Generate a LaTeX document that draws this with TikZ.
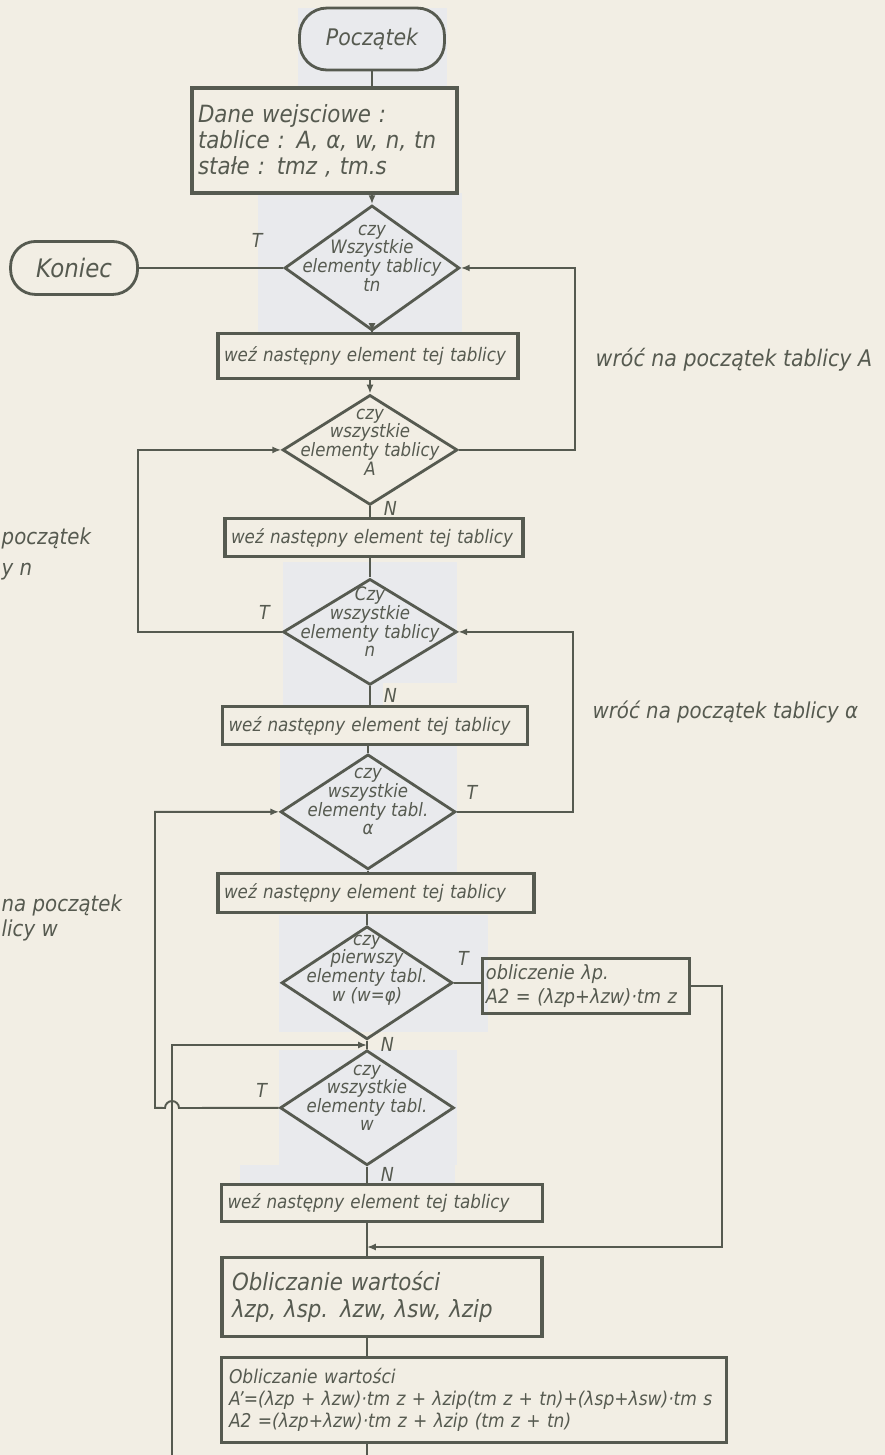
\documentclass[tikz,border=0pt]{standalone}
\usepackage{fontspec}
\setmainfont{DejaVu Sans}[FakeStretch=0.9]
\usetikzlibrary{shapes.geometric, arrows.meta}
\definecolor{paper}{RGB}{242,238,228}
\definecolor{patch}{RGB}{233,234,237}
\definecolor{ink}{RGB}{86,90,80}

\begin{document}
\begin{tikzpicture}[x=0.02cm, y=-0.02cm, thick, color=ink,
    term/.style={draw, line width=1.6pt, rectangle, rounded corners=0.55cm,
                 font=\fontsize{13}{15}\selectfont\itshape},
    box/.style={draw, line width=1.8pt, inner xsep=0.12cm, inner ysep=0pt,
                align=left, font=\fontsize{10.6}{13}\selectfont\itshape},
    decision/.style={draw, line width=1.6pt, diamond, inner sep=0pt},
    dtext/.style={align=center, yshift=0.2cm,
                  font=\fontsize{10.5}{10.6}\selectfont\itshape},
    line/.style={draw, line width=1.1pt},
    arr/.style={line, -{Latex[length=5pt, width=4pt]}},
    lbl/.style={font=\fontsize{11}{13}\selectfont\itshape},
    note/.style={inner sep=0pt, align=left, font=\fontsize{12.5}{15}\selectfont\itshape}]

    \path[use as bounding box, fill=paper] (0,0) rectangle (885,1455);
    % lighter patches of the scan
    \fill[patch] (298,8) rectangle (447,87);
    \fill[patch] (258,193) rectangle (462,333);
    \fill[patch] (283,562) rectangle (457,683);
    \fill[patch] (283,683) rectangle (383,708);
    \fill[patch] (280,745) rectangle (457,872);
    \fill[patch] (279,915) rectangle (488,1032);
    \fill[patch] (279,1050) rectangle (457,1165);
    \fill[patch] (240,1165) rectangle (455,1184);

    \node[term, minimum width=2.9cm, minimum height=1.24cm] (start) at (372,39) {Początek};
    \node[box, text width=5.06cm, minimum height=2.1cm,
          font=\fontsize{13.5}{14.8}\selectfont\itshape]
          (data) [node distance=2.03cm, below of=start, xshift=-0.95cm]
          {Dane wejsciowe :\\tablice : A, α, w, n, tn\\stałe : tmz , tm.s};
    \node[decision, minimum width=3.5cm, minimum height=2.5cm,
          label={[dtext]center:{czy\\Wszystkie\\elementy tablicy\\tn}}]
          (d1) [node distance=4.58cm, below of=start] {};
    \node[term, minimum width=2.54cm, minimum height=1.06cm, rounded corners=0.5cm,
          font=\fontsize{14.5}{16}\selectfont\itshape]
          (koniec) [node distance=5.96cm, left of=d1] {Koniec};
    \node[box, text width=5.76cm, minimum height=0.9cm]
          (box1) [node distance=1.76cm, below of=d1, xshift=-0.08cm] {weź następny element tej tablicy};
    \node[decision, minimum width=3.5cm, minimum height=2.2cm,
          label={[dtext, yshift=-0.04cm]center:{czy\\wszystkie\\elementy tablicy\\A}}]
          (d2) [node distance=3.64cm, below of=d1, xshift=-0.04cm] {};
    \node[box, text width=5.72cm, minimum height=0.76cm]
          (box2) [node distance=1.76cm, below of=d2, xshift=0.08cm] {weź następny element tej tablicy};
    \node[decision, minimum width=3.48cm, minimum height=2.12cm,
          label={[dtext]center:{Czy\\wszystkie\\elementy tablicy\\n}}]
          (d3) [node distance=3.64cm, below of=d2] {};
    \node[box, text width=5.86cm, minimum height=0.76cm]
          (box3) [node distance=1.88cm, below of=d3, xshift=0.1cm] {weź następny element tej tablicy};
    \node[decision, minimum width=3.5cm, minimum height=2.3cm,
          label={[dtext]center:{czy\\wszystkie\\elementy tabl.\\α}}]
          (d4) [node distance=3.6cm, below of=d3, xshift=-0.04cm] {};
    \node[box, text width=6.08cm, minimum height=0.78cm]
          (box4) [node distance=1.62cm, below of=d4, xshift=0.16cm] {weź następny element tej tablicy};
    \node[decision, minimum width=3.42cm, minimum height=2.26cm,
          label={[dtext, yshift=0.06cm]center:{czy\\pierwszy\\elementy tabl.\\w (w=φ)}}]
          (d5) [node distance=3.42cm, below of=d4, xshift=-0.02cm] {};
    \node[box, text width=4.0cm, inner xsep=0.07cm, minimum height=1.1cm,
          font=\fontsize{11.2}{13.6}\selectfont\itshape]
          (obl) [node distance=4.38cm, right of=d5, yshift=-0.06cm]
          {obliczenie λp.\\A2 = (λzp+λzw)·tm z};
    \node[decision, minimum width=3.48cm, minimum height=2.3cm,
          label={[dtext]center:{czy\\wszystkie\\elementy tabl.\\w}}]
          (d6) [node distance=2.5cm, below of=d5] {};
    \node[box, text width=6.18cm, minimum height=0.74cm]
          (box5) [node distance=1.9cm, below of=d6, xshift=0.3cm] {weź następny element tej tablicy};
    \node[box, text width=6.0cm, inner xsep=0.2cm, minimum height=1.58cm,
          font=\fontsize{13.5}{15.3}\selectfont\itshape]
          (box6) [node distance=1.88cm, below of=box5]
          {Obliczanie wartości\\λzp, λsp. λzw, λsw, λzip\\[4pt]};
    \node[box, text width=9.8cm, inner xsep=0.15cm, minimum height=1.7cm,
          font=\fontsize{10.8}{12.6}\selectfont\itshape]
          (box7) [node distance=2.06cm, below of=box6, xshift=1.84cm]
          {Obliczanie wartości\\A'=(λzp + λzw)·tm z + λzip(tm z + tn)+(λsp+λsw)·tm s\\A2 =(λzp+λzw)·tm z + λzip (tm z + tn)};

    \node[note, anchor=west, font=\fontsize{13}{15}\selectfont\itshape]
          (retA) at (595,360) {wróć na początek tablicy A};
    \node[note, anchor=west] (retAl) at (592,712) {wróć na początek tablicy α};
    \node[note, anchor=north west, font=\fontsize{12.5}{17.5}\selectfont\itshape]
          (retN) at (1,527) {początek\\y n};
    \node[note, anchor=north west, font=\fontsize{12.5}{14}\selectfont\itshape]
          (retW) at (1,894) {na początek\\licy w};

    \coordinate (loopA) at (575,0);
    \coordinate (loopN) at (138,0);
    \coordinate (loopAl) at (573,0);
    \coordinate (loopW) at (155,0);
    \coordinate (sideR) at (722,0);
    \coordinate (bump) at (179,1108);
    \coordinate (back) at (172,1455);
    \coordinate (join) at (367,1045);
    \coordinate (merge) at (367,1247);
    \coordinate (bottom) at (367,1455);

    \draw[line] (start.south) -- (start.south |- data.north);
    \draw[arr] (d1 |- data.south) -- (d1.north);
    \draw[arr] (d1.south) -- (d1.south |- box1.north);
    \draw[line] (d1.west) -- node[lbl, above=8pt, pos=0.18] {T} (koniec.east);
    \draw[arr] (d2 |- box1.south) -- (d2.north);
    \draw[line] (d2.south) -- node[lbl, right=4pt, pos=0.2] {N} (d2.south |- box2.north);
    \draw[line] (d3 |- box2.south) -- (d3.north);
    \draw[line] (d3.south) -- node[lbl, right=4pt] {N} (d3.south |- box3.north);
    \draw[line] (d4 |- box3.south) -- (d4.north);
    \draw[line] (d4.south) -- (d4.south |- box4.north);
    \draw[line] (d5 |- box4.south) -- (d5.north);
    \draw[line] (d5.east) -- node[lbl, above=6pt, pos=0.35] {T} (d5.east -| obl.west);
    \draw[line] (d5.south) -- node[lbl, right=4pt] {N} (d6.north);
    \draw[line] (d6.south) -- node[lbl, right=4pt] {N} (d6.south |- box5.north);
    \draw[line] (box5.south -| d6) -- (box6.north -| d6);
    \draw[line] (box6.south -| d6) -- (box7.north -| d6);
    \draw[line] (box7.south -| d6) -- (bottom);

    % loops back
    \draw[arr] (d2.east) -- (d2.east -| loopA) -- (d1.east -| loopA) -- (d1.east);
    \draw[arr] (d3.west) -- node[lbl, above=3pt, pos=0.12] {T} (d3.west -| loopN)
        -- (d2.west -| loopN) -- (d2.west);
    \draw[arr] (d4.east) -- node[lbl, above=3pt, pos=0.13] {T} (d4.east -| loopAl)
        -- (d3.east -| loopAl) -- (d3.east);
    \draw[arr] (d6.west) -- node[lbl, above=2pt, pos=0.17] {T} (bump)
        arc[start angle=0, end angle=180, radius=0.14cm]
        -- (d6.west -| loopW) -- (d4.west -| loopW) -- (d4.west);
    \draw[arr] (back) -- (back |- join) -- (join);
    \draw[arr] (obl.east) -- (obl.east -| sideR) -- (sideR |- merge) -- (merge);
\end{tikzpicture}
\end{document}
